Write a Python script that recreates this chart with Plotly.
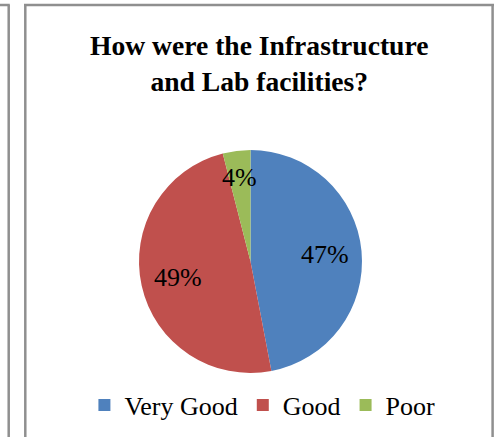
import math
import plotly.graph_objects as go

categories = ["Very Good", "Good", "Poor"]
values = [47, 49, 4]
colors = ["#4F81BD", "#C0504D", "#9BBB59"]
title_lines = ["How were the Infrastructure", "and Lab facilities?"]

W, H = 497, 437
cx, cy, R = 250.5, 261.5, 111.5
SERIF = "Liberation Serif, Times New Roman, Times, DejaVu Serif, serif"

fig = go.Figure()
fig.add_trace(go.Pie(
    labels=categories, values=values, sort=False, direction="clockwise", rotation=0,
    marker=dict(colors=colors, line=dict(width=0)),
    textinfo="none", hoverinfo="label+percent",
    domain=dict(x=[(cx - R) / W, (cx + R) / W], y=[1 - (cy + R) / H, 1 - (cy - R) / H]),
    showlegend=True,
))

# data labels placed at the middle angle of each slice
total = sum(values)
cum = 0
annotations = []
for v in values:
    frac = v / total
    mid = (cum + frac / 2) * 2 * math.pi
    cum += frac
    rf = 0.76 if frac < 0.1 else 0.67
    px = cx + rf * R * math.sin(mid)
    py = cy - rf * R * math.cos(mid)
    annotations.append(dict(
        x=px / W, y=1 - py / H, xref="paper", yref="paper", showarrow=False,
        text=f"{round(frac * 100)}%", xanchor="center", yanchor="middle",
        font=dict(family=SERIF, size=26, color="#000000"),
    ))

annotations.append(dict(
    x=258.5 / W, y=1 - 63.5 / H, xref="paper", yref="paper", showarrow=False,
    text="<br>".join(f"<b>{t}</b>" for t in title_lines), xanchor="center", yanchor="middle",
    font=dict(family=SERIF, size=27.6, color="#000000"),
))

gray = "#8f8f8f"
shapes = [
    dict(type="line", xref="paper", yref="paper", x0=0, x1=9.8 / W, y0=1 - 5 / H, y1=1 - 5 / H,
         line=dict(color=gray, width=2.5)),
    dict(type="line", xref="paper", yref="paper", x0=8.7 / W, x1=8.7 / W, y0=1 - 5 / H, y1=0,
         line=dict(color=gray, width=2.5)),
    dict(type="line", xref="paper", yref="paper", x0=25.3 / W, x1=25.3 / W, y0=1 - 4 / H, y1=0,
         line=dict(color=gray, width=2.5)),
    dict(type="line", xref="paper", yref="paper", x0=24 / W, x1=494 / W, y0=1 - 5 / H, y1=1 - 5 / H,
         line=dict(color=gray, width=2.5)),
    dict(type="line", xref="paper", yref="paper", x0=492.6 / W, x1=492.6 / W, y0=1 - 4 / H, y1=0,
         line=dict(color=gray, width=2.5)),
]

fig.update_layout(
    width=W, height=H, autosize=False,
    margin=dict(l=0, r=0, t=0, b=0),
    paper_bgcolor="white", plot_bgcolor="white",
    font=dict(family=SERIF),
    annotations=annotations, shapes=shapes,
    legend=dict(orientation="h", x=0.528, xanchor="center", y=1 - 405 / H, yanchor="middle",
                font=dict(family=SERIF, size=26, color="#000000"),
                itemwidth=30, tracegroupgap=0, bgcolor="rgba(0,0,0,0)"),
)

fig.write_html("out.html", config={"displayModeBar": False},
               post_script="document.body.style.margin='0';document.body.style.padding='0';")
